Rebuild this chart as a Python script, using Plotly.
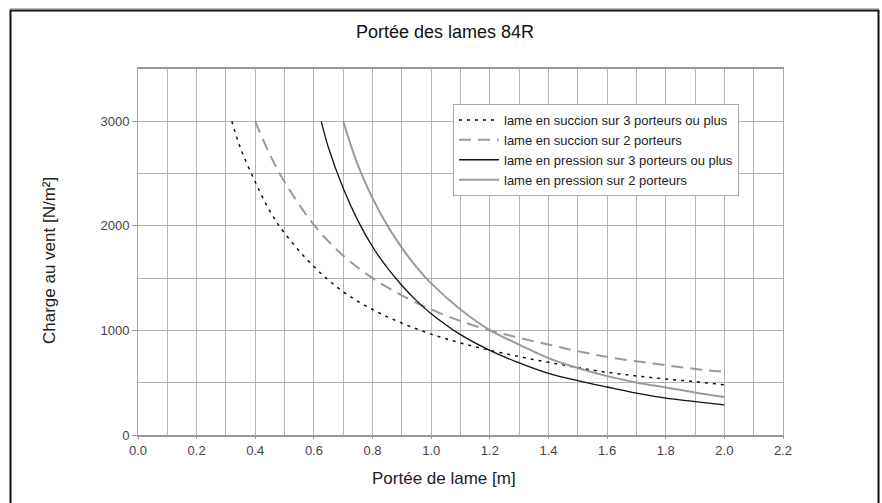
import plotly.graph_objects as go

# Curve data (x = span [m], y = wind load [N/m²])
succ3_x = [0.32, 0.35, 0.4, 0.45, 0.5, 0.6, 0.7, 0.8, 0.9, 1.0, 1.1, 1.2, 1.3, 1.4, 1.5, 1.6, 1.7, 1.8, 1.9, 2.0]
succ3_y = [3000, 2740, 2420, 2140, 1930, 1610, 1370, 1200, 1070, 965, 880, 810, 750, 695, 645, 600, 565, 535, 510, 480]

succ2_x = [0.4, 0.45, 0.5, 0.6, 0.7, 0.8, 0.9, 1.0, 1.1, 1.2, 1.3, 1.4, 1.5, 1.6, 1.7, 1.8, 1.9, 2.0]
succ2_y = [3000, 2680, 2420, 2010, 1715, 1500, 1335, 1200, 1090, 1000, 930, 865, 801, 747, 705, 667, 632, 603]

press3_x = [0.625, 0.65, 0.7, 0.75, 0.8, 0.85, 0.9, 0.95, 1.0, 1.1, 1.2, 1.3, 1.4, 1.5, 1.6, 1.7, 1.8, 1.9, 2.0]
press3_y = [3000, 2745, 2360, 2050, 1800, 1600, 1430, 1285, 1160, 960, 810, 690, 590, 520, 459, 401, 353, 320, 288]

press2_x = [0.7, 0.75, 0.8, 0.85, 0.9, 0.95, 1.0, 1.1, 1.2, 1.3, 1.4, 1.5, 1.6, 1.7, 1.8, 1.9, 2.0]
press2_y = [3000, 2580, 2265, 2005, 1790, 1605, 1450, 1200, 1003, 865, 735, 640, 563, 503, 455, 407, 363]

series_names = [
    "lame en succion sur 3 porteurs ou plus",
    "lame en succion sur 2 porteurs",
    "lame en pression sur 3 porteurs ou plus",
    "lame en pression sur 2 porteurs",
]

title_text = "Portée des lames 84R"
x_title = "Portée de lame [m]"
y_title = "Charge au vent [N/m²]"

FONT = "Liberation Sans, Arial, sans-serif"

fig = go.Figure()
fig.add_trace(go.Scatter(x=succ3_x, y=succ3_y, mode="lines", name=series_names[0],
                         line=dict(color="#111111", width=1.5, dash="3px,5px", shape="spline")))
fig.add_trace(go.Scatter(x=succ2_x, y=succ2_y, mode="lines", name=series_names[1],
                         line=dict(color="#9a9a9a", width=2, dash="12px,7px", shape="spline")))
fig.add_trace(go.Scatter(x=press3_x, y=press3_y, mode="lines", name=series_names[2],
                         line=dict(color="#111111", width=1.3, shape="spline")))
fig.add_trace(go.Scatter(x=press2_x, y=press2_y, mode="lines", name=series_names[3],
                         line=dict(color="#9a9a9a", width=2, shape="spline")))

L, R, T, B = 138, 99, 69, 68
W, H = 882, 503
pw, ph = W - L - R, H - T - B

def px_to_paper_x(px):
    return (px - L) / pw

def px_to_paper_y(py):
    return (H - B - py) / ph

fig.update_layout(
    width=W, height=H,
    margin=dict(l=L, r=R, t=T, b=B),
    paper_bgcolor="white", plot_bgcolor="white",
    font=dict(family=FONT, size=13, color="#222222"),
    showlegend=True,
    legend=dict(
        x=px_to_paper_x(453), y=px_to_paper_y(104), xanchor="left", yanchor="top",
        bgcolor="white", bordercolor="#a8a8a8", borderwidth=1,
        font=dict(family=FONT, size=13, color="#222222"),
        tracegroupgap=0, itemwidth=40,
    ),
    xaxis=dict(
        range=[0, 2.2], dtick=0.2, tick0=0, tickformat=".1f",
        showgrid=True, gridcolor="#b4b4b4", gridwidth=1,
        minor=dict(dtick=0.1, showgrid=True, gridcolor="#b4b4b4", gridwidth=1),
        showline=True, linecolor="#999999", linewidth=2, mirror=True,
        ticks="outside", ticklen=2, tickcolor="#999999",
        tickfont=dict(family=FONT, size=13, color="#444444"),
        zeroline=False,
    ),
    yaxis=dict(
        range=[0, 3500], dtick=1000, tick0=0,
        showgrid=True, gridcolor="#b4b4b4", gridwidth=1,
        minor=dict(dtick=500, showgrid=True, gridcolor="#b4b4b4", gridwidth=1),
        showline=True, linecolor="#aaaaaa", linewidth=1, mirror=True,
        ticks="outside", ticklen=5, tickcolor="#999999",
        tickfont=dict(family=FONT, size=13, color="#444444"),
        zeroline=False,
    ),
    annotations=[
        dict(text=title_text, xref="paper", yref="paper",
             x=px_to_paper_x(445), y=px_to_paper_y(32), xanchor="center", yanchor="middle",
             showarrow=False, font=dict(family=FONT, size=18, color="#111111")),
        dict(text=x_title, xref="paper", yref="paper",
             x=px_to_paper_x(444), y=px_to_paper_y(479), xanchor="center", yanchor="middle",
             showarrow=False, font=dict(family=FONT, size=17, color="#222222")),
        dict(text=y_title, xref="paper", yref="paper", textangle=-90,
             x=px_to_paper_x(49), y=px_to_paper_y(260), xanchor="center", yanchor="middle",
             showarrow=False, font=dict(family=FONT, size=17, color="#222222")),
    ],
    shapes=[
        dict(type="line", xref="paper", yref="paper",
             x0=px_to_paper_x(10), x1=px_to_paper_x(879),
             y0=px_to_paper_y(8.5), y1=px_to_paper_y(8.5),
             line=dict(color="#bbbbbb", width=1), layer="above"),
        dict(type="rect", xref="paper", yref="paper",
             x0=px_to_paper_x(10.5), x1=px_to_paper_x(878.5),
             y0=px_to_paper_y(520), y1=px_to_paper_y(10.5),
             line=dict(color="#111111", width=2), fillcolor="rgba(0,0,0,0)", layer="above"),
    ],
)

fig.write_html("out.html", config={"displayModeBar": False},
               post_script="document.body.style.margin='0';")
